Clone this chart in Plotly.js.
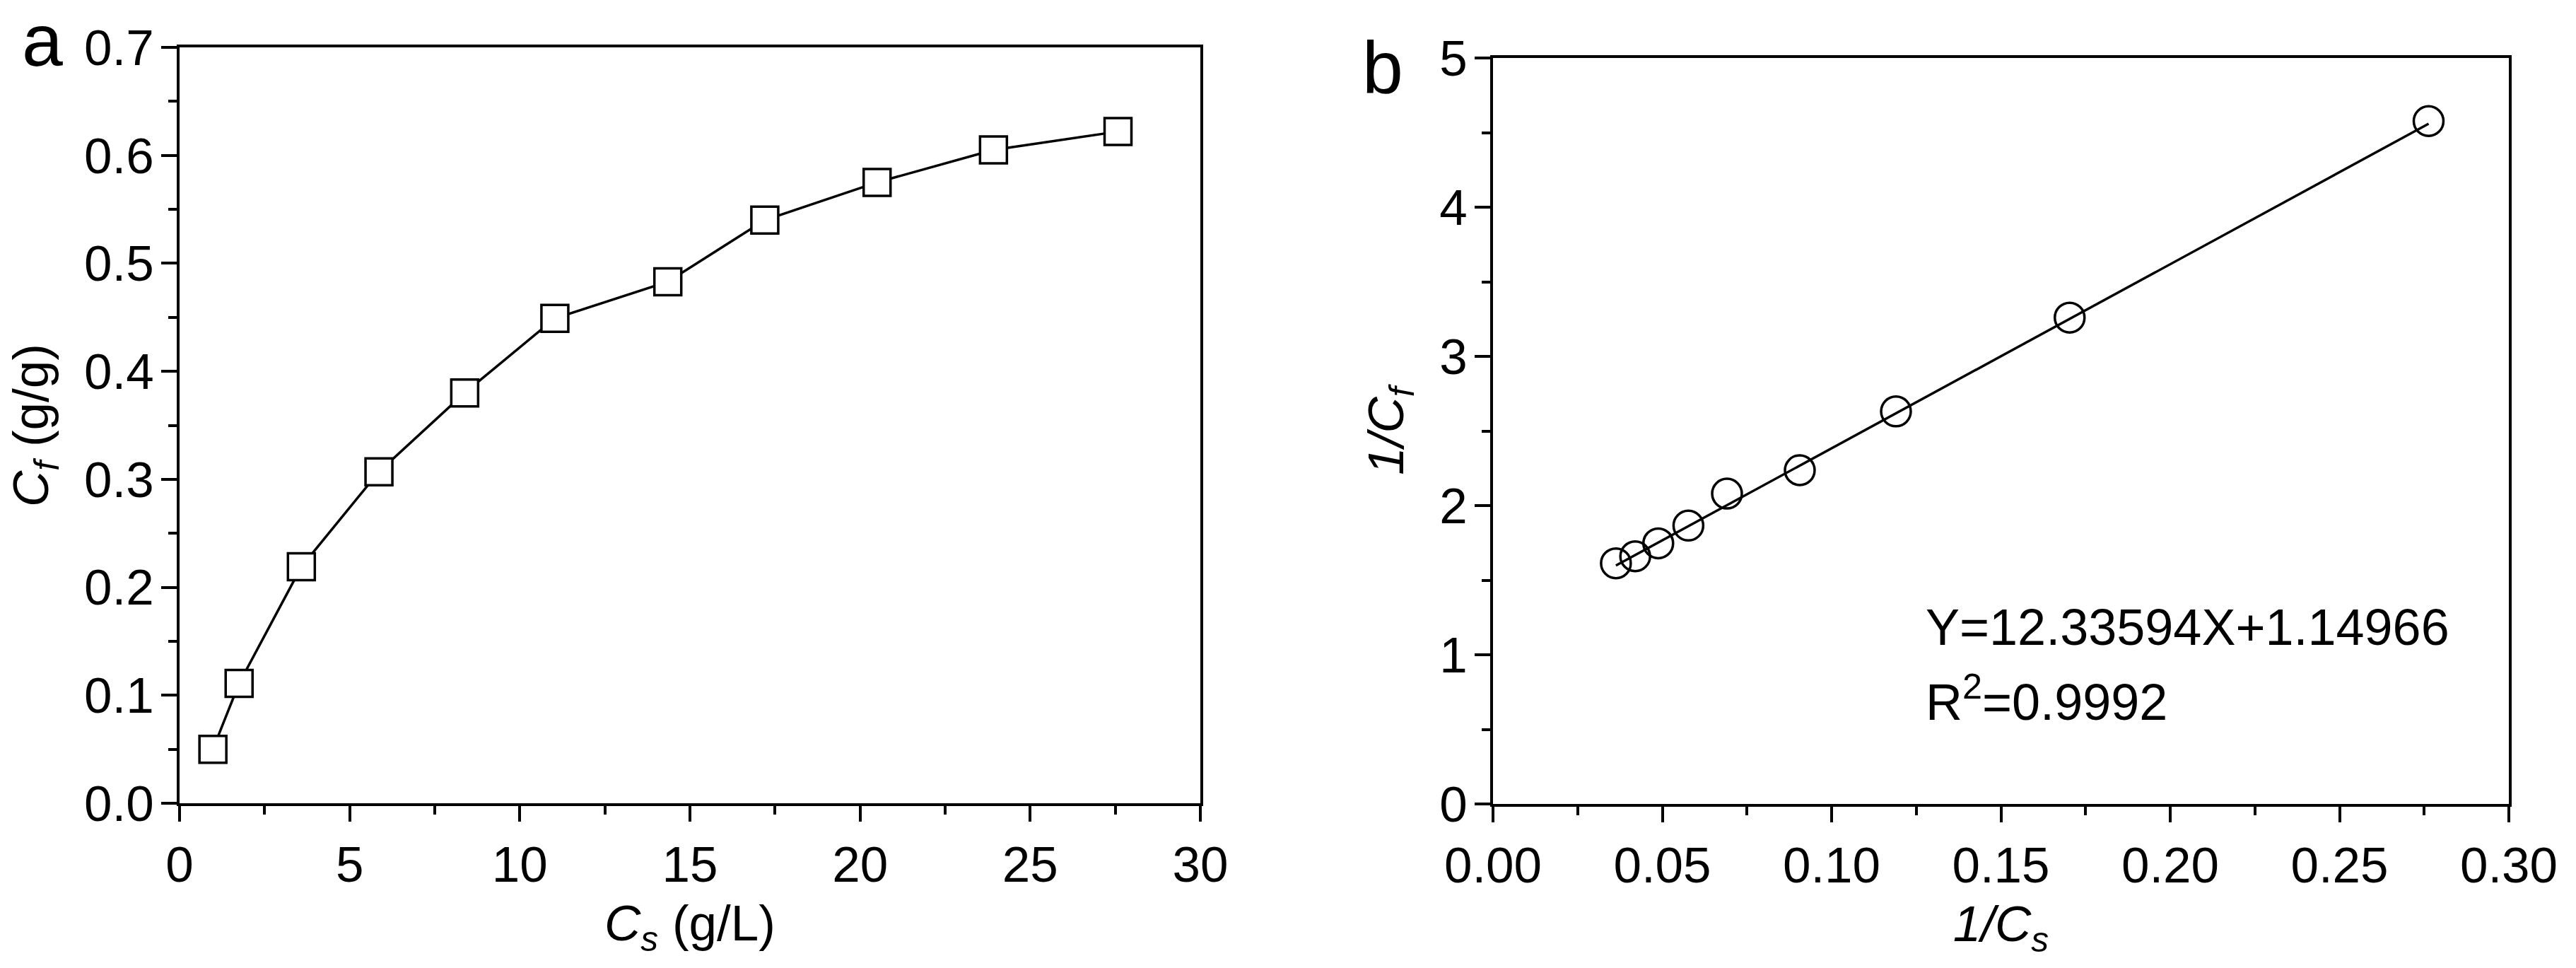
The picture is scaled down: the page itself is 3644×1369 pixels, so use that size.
<!DOCTYPE html>
<html>
<head>
<meta charset="utf-8">
<script src="https://cdn.plot.ly/plotly-3.0.1.min.js"></script>
<style>html,body{margin:0;padding:0;background:#fff;}</style>
</head>
<body>
<div id="myDiv" style="width:3644px;height:1369px;"></div>
<script>
// panel a: adsorption isotherm, Cf vs Cs
var csA = [0.98, 1.75, 3.58, 5.86, 8.38, 11.03, 14.35, 17.2, 20.5, 23.92, 27.58];
var cfA = [0.050, 0.111, 0.219, 0.307, 0.380, 0.449, 0.483, 0.540, 0.575, 0.605, 0.622];

// panel b: linearised form, 1/Cf vs 1/Cs
var invCs = [0.0363, 0.0420, 0.0488, 0.0577, 0.0691, 0.0906, 0.1190, 0.1703, 0.2763];
var invCf = [1.613, 1.660, 1.747, 1.866, 2.080, 2.237, 2.631, 3.260, 4.577];
var fitX = [0.0363, 0.2763];
var fitY = [1.598, 4.559];

var eqText = 'Y=12.33594X+1.14966';
var r2Text = 'R<sup>2</sup>=0.9992';
var panelA = 'a', panelB = 'b';

var FONT = 'Arial, "Liberation Sans", sans-serif';
var FW = 3644, FH = 1369;
var L = 150, R = 60, T = 40, B = 150;
var PW = FW - L - R, PH = FH - T - B;
// pixel -> paper helpers
function dx(px) { return (px - L) / PW; }
function dy(py) { return (FH - B - py) / PH; }

function axis(o) {
  var a = {
    showline: true, linecolor: '#000', linewidth: 4, mirror: true,
    ticks: 'outside', ticklen: 22, tickwidth: 4, tickcolor: '#000',
    showgrid: false, zeroline: false, fixedrange: true,
    tickfont: {family: FONT, size: 71, color: '#000'},
    minor: {ticks: 'outside', ticklen: 12, tickwidth: 4, tickcolor: '#000', showgrid: false}
  };
  for (var k in o) a[k] = o[k];
  return a;
}

var data = [
  {x: csA, y: cfA, xaxis: 'x', yaxis: 'y', type: 'scatter', mode: 'lines+markers',
   line: {color: '#000', width: 3.5},
   marker: {symbol: 'square', size: 38, color: '#fff', line: {color: '#000', width: 3.5}},
   cliponaxis: false},
  {x: fitX, y: fitY, xaxis: 'x2', yaxis: 'y2', type: 'scatter', mode: 'lines',
   line: {color: '#000', width: 3.5}},
  {x: invCs, y: invCf, xaxis: 'x2', yaxis: 'y2', type: 'scatter', mode: 'markers',
   marker: {symbol: 'circle-open', size: 42, color: '#000', line: {color: '#000', width: 3.5}},
   cliponaxis: false}
];

var titleFont = {family: FONT, size: 71, color: '#000'};

var xa = axis({domain: [dx(254), dx(1698)], range: [0, 30], dtick: 5, tick0: 0,
  title: {text: '<i>C</i><sub><i>s</i></sub> (g/L)', font: titleFont, standoff: 20},
  anchor: 'y'});
xa.minor.dtick = 2.5;
var ya = axis({domain: [dy(1136), dy(67)], range: [0, 0.7], dtick: 0.1, tick0: 0, tickformat: '.1f',
  title: {text: '<i>C</i><sub><i>f</i></sub> (g/g)', font: titleFont, standoff: 28},
  anchor: 'x', ticklabelstandoff: -4});
ya.minor.dtick = 0.05;
var xb = axis({domain: [dx(2112), dx(3549)], range: [0, 0.3], dtick: 0.05, tick0: 0, tickformat: '.2f',
  title: {text: '<i>1/C</i><sub><i>s</i></sub>', font: titleFont, standoff: 20},
  anchor: 'y2'});
xb.minor.dtick = 0.025;
var yb = axis({domain: [dy(1137), dy(82)], range: [0, 5], dtick: 1, tick0: 0,
  title: {text: '<i>1/C</i><sub><i>f</i></sub>', font: titleFont, standoff: 28},
  anchor: 'x2', ticklabelstandoff: -4});
yb.minor.dtick = 0.5;

var layout = {
  width: FW, height: FH,
  margin: {l: L, r: R, t: T, b: B},
  paper_bgcolor: '#fff', plot_bgcolor: '#fff',
  showlegend: false, hovermode: false,
  font: {family: FONT, color: '#000'},
  xaxis: xa, yaxis: ya, xaxis2: xb, yaxis2: yb,
  annotations: [
    {text: panelA, xref: 'paper', yref: 'paper', x: dx(29), y: dy(57), xanchor: 'left', yanchor: 'middle',
     showarrow: false, font: {family: FONT, size: 104, color: '#000'}},
    {text: panelB, xref: 'paper', yref: 'paper', x: dx(1925), y: dy(95), xanchor: 'left', yanchor: 'middle',
     showarrow: false, font: {family: FONT, size: 104, color: '#000'}},
    {text: eqText, xref: 'paper', yref: 'paper', x: dx(2722), y: dy(887), xanchor: 'left', yanchor: 'middle',
     showarrow: false, font: {family: FONT, size: 72, color: '#000'}},
    {text: r2Text, xref: 'paper', yref: 'paper', x: dx(2722), y: dy(987), xanchor: 'left', yanchor: 'middle',
     showarrow: false, font: {family: FONT, size: 72, color: '#000'}}
  ]
};

Plotly.newPlot('myDiv', data, layout, {staticPlot: true, displayModeBar: false});
</script>
</body>
</html>
